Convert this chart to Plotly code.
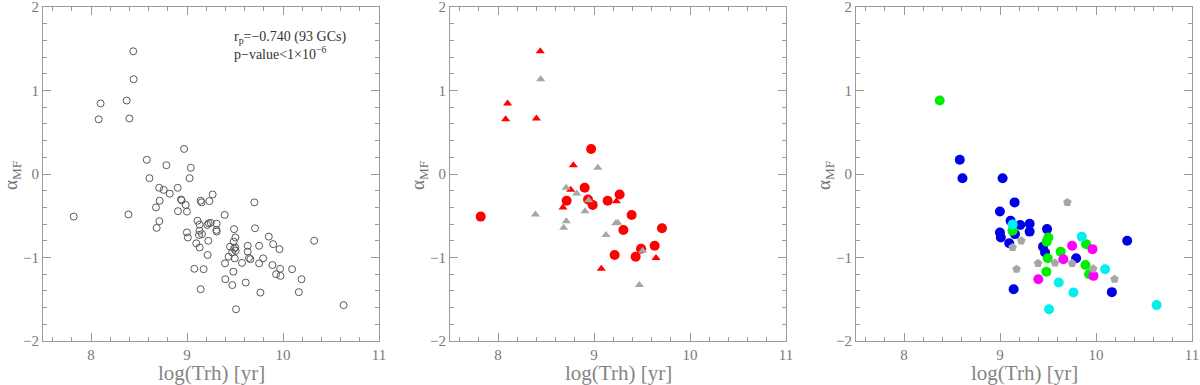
import plotly.graph_objects as go

# ---------------- data ----------------
# Panel 2 groups
red_tri_x = [8.44, 8.10, 8.08, 8.40, 8.785, 8.757, 8.677, 9.233, 9.076, 9.503, 9.646]
red_tri_y = [1.47, 0.845, 0.655, 0.665, 0.105, -0.19, -0.40, -0.325, -1.135, -0.88, -1.005]

gray_tri_x = [8.444, 9.04, 8.71, 8.82, 8.944, 8.39, 8.906, 8.712, 8.684, 9.226, 9.247, 9.125, 9.507, 9.472]
gray_tri_y = [1.135, 0.075, -0.165, -0.235, -0.315, -0.485, -0.445, -0.565, -0.645, -0.59, -0.585, -0.73, -0.92, -1.33]

red_circ_x = [7.82, 8.97, 8.903, 8.715, 8.9375, 8.986, 9.142, 9.267, 9.392, 9.306, 9.708, 9.215, 9.434, 9.49, 9.632]
red_circ_y = [-0.51, 0.30, -0.165, -0.32, -0.305, -0.37, -0.32, -0.245, -0.49, -0.67, -0.65, -0.97, -0.99, -0.895, -0.86]

# Panel 3 groups
blue_x = [8.581, 8.609, 9.027, 9.152, 8.999, 9.11, 8.999, 9.009, 9.096, 9.156, 9.211, 9.309, 9.309, 9.49, 9.448, 9.469, 9.793, 9.142, 10.165, 10.325]
blue_y = [0.17, -0.05, -0.05, -0.34, -0.45, -0.56, -0.70, -0.76, -0.83, -0.72, -0.61, -0.595, -0.69, -0.66, -0.87, -0.94, -1.01, -1.38, -1.415, -0.80]

green_x = [8.372, 9.131, 9.504, 9.486, 9.497, 9.483, 9.632, 9.897, 9.89, 9.928]
green_y = [0.88, -0.68, -0.76, -0.81, -1.01, -1.17, -0.93, -0.84, -1.09, -1.20]

cyan_x = [9.131, 9.852, 10.095, 9.612, 9.765, 9.511, 10.631]
cyan_y = [-0.605, -0.75, -1.14, -1.30, -1.42, -1.62, -1.57]

magenta_x = [9.751, 9.963, 9.66, 9.399, 9.974]
magenta_y = [-0.86, -0.90, -1.02, -1.26, -1.22]

pent_x = [9.702, 9.222, 9.131, 9.173, 9.396, 9.573, 9.751, 9.97, 10.193]
pent_y = [-0.34, -0.80, -0.88, -1.14, -1.07, -1.065, -1.07, -1.135, -1.26]

# Panel 1: all clusters
all_x = red_tri_x + gray_tri_x + red_circ_x + blue_x + green_x + cyan_x + magenta_x + pent_x
all_y = red_tri_y + gray_tri_y + red_circ_y + blue_y + green_y + cyan_y + magenta_y + pent_y

x_ticks = [8, 9, 10, 11]
y_ticks = [-2, -1, 0, 1, 2]
x_title = "log(Trh) [yr]"
y_title = "α<sub>MF</sub>"
stat_line1 = "r<sub>p</sub>=−0.740 (93 GCs)"
stat_line2 = "p−value<1×10<sup>−6</sup>"

# ---------------- figure ----------------
W, H = 1200, 385
fig = go.Figure()

def sc(x, y, ax, symbol, color, size, open_=False):
    if open_:
        m = dict(symbol=symbol, size=size, color=color, line=dict(color=color, width=1))
    else:
        m = dict(symbol=symbol, size=size, color=color, line=dict(width=0))
    fig.add_trace(go.Scatter(x=x, y=y, mode="markers", marker=m,
                             xaxis="x" + ax, yaxis="y" + ax, showlegend=False,
                             hoverinfo="skip", cliponaxis=False))

sc(all_x, all_y, "", "circle-open", "#5a5a5a", 7, open_=True)

sc(red_circ_x, red_circ_y, "2", "circle", "#ff0000", 10)
sc(red_tri_x, red_tri_y, "2", "triangle-up", "#ff0000", 8)
sc(gray_tri_x, gray_tri_y, "2", "triangle-up", "#a6a6a6", 8)

sc(blue_x, blue_y, "3", "circle", "#0000e6", 10)
sc(green_x, green_y, "3", "circle", "#00ee00", 10)
sc(cyan_x, cyan_y, "3", "circle", "#00f0f0", 10)
sc(magenta_x, magenta_y, "3", "circle", "#ff00ff", 10)
sc(pent_x, pent_y, "3", "pentagon", "#a6a6a6", 9)

px_left = [43, 450, 856]
px_w = 336
top_px, bot_px = 7, 341
MT, MB = top_px, H - bot_px
plot_h = H - MT - MB

frame = "#9a9a9a"
tickfont = dict(family="Liberation Serif", size=15, color="#7a7a7a")

def xaxis(i):
    return dict(domain=[px_left[i] / W, (px_left[i] + px_w) / W], range=[7.5, 11],
                tickvals=x_ticks, ticks="inside", ticklen=8, tickcolor=frame, tickwidth=1,
                showline=True, linecolor=frame, linewidth=1, mirror="ticks",
                showgrid=False, zeroline=False, tickfont=tickfont,
                ticklabeloverflow="allow", automargin=False,
                minor=dict(tick0=0, dtick=0.2, ticks="inside", ticklen=4, tickcolor=frame, showgrid=False),
                fixedrange=True, anchor="y" if i == 0 else "y" + str(i + 1))

def yaxis(i):
    return dict(domain=[0, 1], range=[-2, 2], tickvals=y_ticks,
                ticks="inside", ticklen=8, tickcolor=frame, tickwidth=1,
                showline=True, linecolor=frame, linewidth=1, mirror="ticks",
                showgrid=False, zeroline=False, tickfont=tickfont,
                ticklabeloverflow="allow", automargin=False,
                minor=dict(tick0=0, dtick=0.2, ticks="inside", ticklen=4, tickcolor=frame, showgrid=False),
                fixedrange=True, anchor="x" if i == 0 else "x" + str(i + 1))

fig.update_layout(
    width=W, height=H, margin=dict(l=0, r=0, t=MT, b=MB, autoexpand=False),
    paper_bgcolor="white", plot_bgcolor="white",
    xaxis=xaxis(0), xaxis2=xaxis(1), xaxis3=xaxis(2),
    yaxis=yaxis(0), yaxis2=yaxis(1), yaxis3=yaxis(2),
)

def py(p):
    # pixel row -> paper y (paper spans the plot area vertically)
    return (H - MB - p) / plot_h

anns = []
for i in range(3):
    cx = (px_left[i] + px_w / 2) / W
    anns.append(dict(x=cx, y=py(373), xref="paper", yref="paper", text=x_title,
                     showarrow=False, xanchor="center", yanchor="middle",
                     font=dict(family="Liberation Serif", size=21, color="#858585")))
    anns.append(dict(x=(px_left[i] - 31) / W, y=py(176), xref="paper", yref="paper",
                     text=y_title, textangle=-90, showarrow=False,
                     xanchor="center", yanchor="middle",
                     font=dict(family="Liberation Serif", size=19, color="#707070")))

anns.append(dict(x=9.47, y=1.64, xref="x", yref="y", text=stat_line1, showarrow=False,
                 xanchor="left", yanchor="middle",
                 font=dict(family="Liberation Serif", size=14, color="#333333")))
anns.append(dict(x=9.47, y=1.445, xref="x", yref="y", text=stat_line2, showarrow=False,
                 xanchor="left", yanchor="middle",
                 font=dict(family="Liberation Serif", size=14, color="#333333")))
fig.update_layout(annotations=anns)

fig.write_html("out.html", config={"displayModeBar": False, "staticPlot": True},
               post_script="document.body.style.margin='0';document.body.style.overflow='hidden';")
